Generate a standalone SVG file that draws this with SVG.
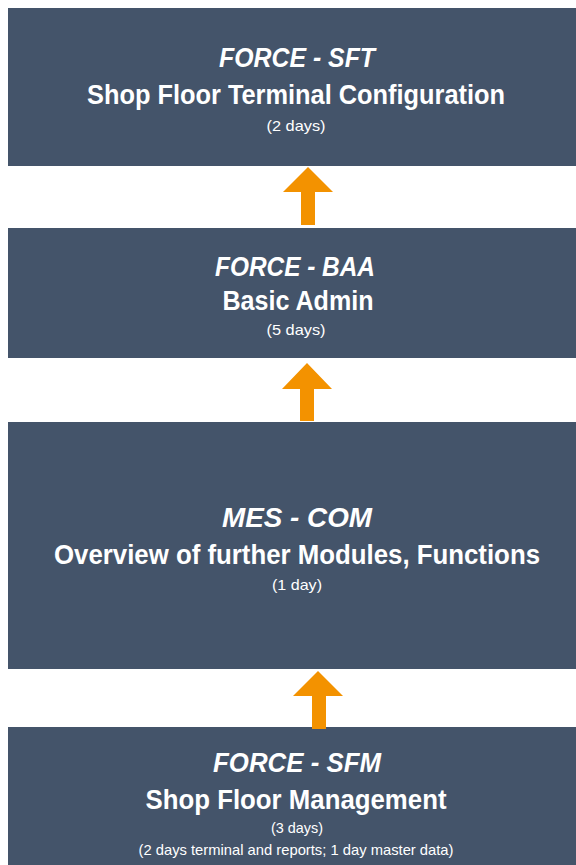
<svg xmlns="http://www.w3.org/2000/svg" width="576" height="865" viewBox="0 0 576 865">
<style>
.box{fill:#44546A}
.arrow{fill:#F39200}
text{fill:#FFFFFF;font-family:"Liberation Sans",Arial,sans-serif;text-anchor:middle}
.t1{font-size:27px;font-weight:bold;font-style:italic}
.t2{font-size:27px;font-weight:bold}
.t3{font-size:15px}
</style>
<rect width="576" height="865" fill="#FFFFFF"/>
<g id="node-sft">
<rect class="box" x="8" y="8" width="576" height="158"/>
<text class="t1" x="297" y="67" textLength="156" lengthAdjust="spacingAndGlyphs">FORCE - SFT</text>
<text class="t2" x="296" y="104" textLength="418" lengthAdjust="spacingAndGlyphs">Shop Floor Terminal Configuration</text>
<text class="t3" x="296" y="131" textLength="59" lengthAdjust="spacingAndGlyphs">(2 days)</text>
</g>
<g id="node-baa">
<rect class="box" x="8" y="228" width="576" height="130"/>
<text class="t1" x="295" y="276" textLength="160" lengthAdjust="spacingAndGlyphs">FORCE - BAA</text>
<text class="t2" x="298" y="310" textLength="151" lengthAdjust="spacingAndGlyphs">Basic Admin</text>
<text class="t3" x="296" y="335" textLength="59" lengthAdjust="spacingAndGlyphs">(5 days)</text>
</g>
<g id="node-com">
<rect class="box" x="8" y="422" width="576" height="247"/>
<text class="t1" x="297" y="527" textLength="150" lengthAdjust="spacingAndGlyphs">MES - COM</text>
<text class="t2" x="297" y="564" textLength="486" lengthAdjust="spacingAndGlyphs">Overview of further Modules, Functions</text>
<text class="t3" x="297" y="590" textLength="50" lengthAdjust="spacingAndGlyphs">(1 day)</text>
</g>
<g id="node-sfm">
<rect class="box" x="8" y="727" width="576" height="150"/>
<text class="t1" x="297" y="772" textLength="168" lengthAdjust="spacingAndGlyphs">FORCE - SFM</text>
<text class="t2" x="296" y="809" textLength="301" lengthAdjust="spacingAndGlyphs">Shop Floor Management</text>
<text class="t3" x="297" y="833" textLength="52" lengthAdjust="spacingAndGlyphs">(3 days)</text>
<text class="t3" x="296" y="855" textLength="315" lengthAdjust="spacingAndGlyphs">(2 days terminal and reports; 1 day master data)</text>
</g>
<g id="connectors">
<polygon class="arrow" points="308,167 333,192 315,192 315,225 301,225 301,192 283,192"/>
<polygon class="arrow" points="307,363 332,389 314,389 314,421 300,421 300,389 282,389"/>
<polygon class="arrow" points="318,671 343,696 326,696 326,729 312,729 312,696 293,696"/>
</g>
</svg>
